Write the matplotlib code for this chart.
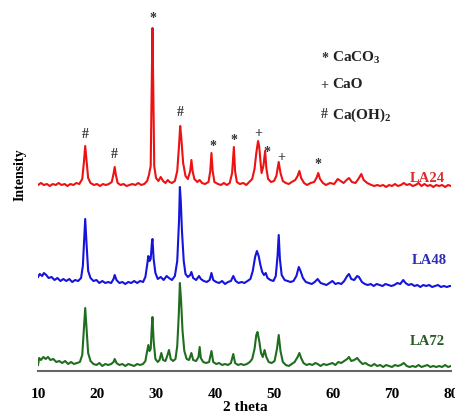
import numpy as np
import matplotlib
matplotlib.use("Agg")
import matplotlib.pyplot as plt

# XRD traces: (2 theta, intensity in arbitrary offset units)
la24 = [(10.0, 186), (10.5, 188), (11.0, 186), (11.5, 187), (12.0, 185), (12.5, 187), (13.0, 186),
        (13.5, 188), (14.0, 186), (14.5, 187), (15.0, 185), (15.5, 187), (16.0, 186), (16.5, 188),
        (17.0, 187), (17.5, 192), (17.8, 210), (18.0, 225), (18.2, 212), (18.5, 193), (18.9, 188),
        (19.5, 186), (20.0, 187), (20.5, 185), (21.0, 187), (21.5, 186), (22.0, 187), (22.5, 189),
        (22.8, 197), (23.0, 204), (23.2, 196), (23.5, 188), (24.0, 186), (24.5, 187), (25.0, 185),
        (25.5, 186), (26.0, 187), (26.5, 186), (27.0, 188), (27.5, 186), (28.0, 187), (28.5, 190),
        (28.8, 196), (29.1, 205), (29.3, 300), (29.4, 343), (29.5, 300), (29.7, 205), (30.0, 193),
        (30.4, 190), (30.8, 194), (31.2, 190), (31.6, 188), (32.0, 191), (32.3, 189), (32.7, 188),
        (33.2, 190), (33.6, 200), (33.9, 225), (34.1, 245), (34.3, 232), (34.6, 208), (35.0, 195),
        (35.4, 192), (35.8, 200), (36.0, 211), (36.2, 200), (36.5, 192), (37.0, 189), (37.4, 191),
        (37.8, 188), (38.3, 187), (38.9, 189), (39.2, 200), (39.4, 218), (39.6, 200), (39.9, 189),
        (40.5, 187), (41.0, 186), (41.5, 188), (42.0, 186), (42.5, 188), (42.9, 198), (43.2, 224),
        (43.4, 200), (43.7, 189), (44.2, 187), (44.8, 188), (45.3, 186), (45.8, 189), (46.3, 192),
        (46.7, 202), (47.0, 218), (47.3, 230), (47.5, 224), (47.7, 210), (47.9, 198), (48.2, 205),
        (48.5, 220), (48.7, 203), (49.0, 192), (49.5, 189), (50.0, 190), (50.4, 195), (50.8, 209),
        (51.1, 198), (51.5, 190), (52.0, 188), (52.5, 187), (53.0, 189), (53.6, 191), (54.0, 195),
        (54.3, 200), (54.6, 193), (55.1, 188), (55.6, 186), (56.2, 188), (56.8, 189), (57.2, 193),
        (57.5, 198), (57.8, 192), (58.3, 188), (58.8, 186), (59.5, 188), (60.2, 187), (60.8, 192),
        (61.3, 190), (61.8, 188), (62.3, 191), (62.7, 193), (63.2, 189), (63.8, 188), (64.3, 192),
        (64.8, 197), (65.2, 191), (65.8, 188), (66.5, 186), (67.0, 185), (67.5, 186), (68.0, 185),
        (68.5, 186), (69.0, 184), (69.5, 186), (70.0, 185), (70.5, 187), (71.0, 185), (71.5, 186),
        (72.0, 188), (72.5, 186), (73.0, 187), (73.5, 185), (74.0, 186), (74.5, 188), (75.0, 185),
        (75.5, 187), (76.0, 185), (76.5, 186), (77.0, 184), (77.5, 186), (78.0, 185), (78.5, 186),
        (79.0, 184), (79.5, 186), (80.0, 185)]

la48 = [(10.0, 94), (10.3, 97), (10.7, 95), (11.0, 98), (11.4, 96), (11.8, 93), (12.3, 94), (12.8, 91),
        (13.3, 93), (13.8, 90), (14.3, 92), (14.8, 90), (15.3, 92), (15.8, 89), (16.3, 91), (16.8, 90),
        (17.3, 93), (17.6, 105), (17.85, 135), (18.0, 152), (18.2, 130), (18.5, 100), (18.9, 93),
        (19.4, 90), (19.9, 91), (20.4, 88), (20.9, 90), (21.4, 88), (21.9, 89), (22.4, 88), (22.8, 92),
        (23.0, 96), (23.3, 91), (23.8, 88), (24.3, 89), (24.8, 87), (25.3, 89), (25.8, 88), (26.3, 90),
        (26.8, 88), (27.3, 90), (27.8, 89), (28.2, 94), (28.5, 106), (28.7, 115), (28.9, 110),
        (29.1, 112), (29.3, 128), (29.4, 132), (29.6, 112), (29.9, 98), (30.3, 92), (30.8, 94),
        (31.3, 91), (31.8, 95), (32.2, 93), (32.7, 91), (33.2, 95), (33.6, 110), (33.9, 150),
        (34.05, 184), (34.2, 170), (34.4, 140), (34.7, 110), (35.0, 97), (35.4, 94), (35.8, 96),
        (36.0, 99), (36.3, 93), (36.8, 91), (37.3, 95), (37.6, 92), (38.1, 90), (38.6, 89), (39.1, 91),
        (39.4, 98), (39.7, 91), (40.2, 89), (40.7, 88), (41.2, 90), (41.7, 87), (42.2, 89), (42.7, 90),
        (43.1, 95), (43.5, 90), (44.0, 88), (44.5, 89), (45.0, 88), (45.5, 90), (46.0, 92), (46.4, 100),
        (46.8, 114), (47.1, 120), (47.4, 115), (47.7, 106), (48.0, 99), (48.3, 96), (48.6, 98),
        (48.9, 93), (49.4, 91), (49.9, 90), (50.3, 95), (50.6, 115), (50.8, 136), (51.0, 112),
        (51.3, 96), (51.8, 91), (52.3, 90), (52.8, 89), (53.3, 90), (53.8, 95), (54.2, 104), (54.5, 100),
        (54.9, 93), (55.4, 89), (55.9, 88), (56.4, 87), (56.9, 89), (57.4, 92), (57.9, 88), (58.4, 87),
        (58.9, 86), (59.4, 88), (59.9, 90), (60.4, 87), (60.9, 88), (61.4, 87), (61.9, 90), (62.4, 95),
        (62.7, 97), (63.1, 92), (63.6, 91), (64.1, 95), (64.4, 94), (64.9, 89), (65.4, 87), (65.9, 86),
        (66.4, 87), (66.9, 85), (67.4, 87), (67.9, 86), (68.4, 85), (68.9, 87), (69.4, 86), (69.9, 85),
        (70.4, 86), (70.9, 88), (71.4, 87), (71.9, 91), (72.3, 88), (72.8, 86), (73.3, 87), (73.8, 85),
        (74.3, 86), (74.8, 84), (75.3, 86), (75.8, 85), (76.3, 86), (76.8, 84), (77.3, 85), (77.8, 86),
        (78.3, 84), (78.8, 85), (79.3, 84), (79.8, 85), (80.0, 85)]

la72 = [(10.0, 6), (10.2, 13), (10.5, 11), (10.9, 14), (11.3, 12), (11.7, 14), (12.1, 11), (12.6, 12),
        (13.1, 9), (13.6, 10), (14.1, 8), (14.6, 10), (15.1, 7), (15.6, 9), (16.1, 7), (16.6, 8),
        (17.1, 9), (17.5, 16), (17.8, 45), (18.0, 63), (18.2, 45), (18.5, 18), (18.9, 10), (19.4, 7),
        (19.9, 6), (20.4, 8), (20.9, 5), (21.4, 7), (21.9, 6), (22.4, 7), (22.8, 9), (23.0, 12),
        (23.3, 8), (23.8, 6), (24.3, 7), (24.8, 5), (25.3, 7), (25.8, 6), (26.3, 5), (26.8, 7),
        (27.3, 6), (27.8, 7), (28.2, 10), (28.5, 20), (28.7, 26), (28.9, 20), (29.1, 22), (29.3, 45),
        (29.4, 54), (29.6, 30), (29.9, 12), (30.3, 9), (30.6, 11), (30.9, 18), (31.2, 11), (31.6, 10),
        (31.9, 15), (32.2, 21), (32.5, 12), (32.9, 10), (33.3, 12), (33.6, 25), (33.85, 55),
        (34.05, 88), (34.25, 70), (34.5, 40), (34.8, 20), (35.2, 12), (35.6, 11), (36.0, 18),
        (36.3, 11), (36.8, 10), (37.2, 14), (37.4, 24), (37.6, 13), (38.0, 9), (38.5, 8), (39.0, 9),
        (39.4, 20), (39.7, 9), (40.2, 7), (40.7, 8), (41.2, 6), (41.7, 7), (42.2, 6), (42.7, 8),
        (43.1, 17), (43.4, 8), (43.9, 6), (44.4, 7), (44.9, 6), (45.4, 7), (45.9, 9), (46.3, 12),
        (46.7, 22), (47.0, 36), (47.2, 39), (47.5, 30), (47.8, 18), (48.1, 14), (48.4, 21), (48.7, 14),
        (49.1, 9), (49.6, 8), (50.1, 10), (50.5, 22), (50.8, 36), (51.1, 20), (51.5, 9), (52.0, 6),
        (52.5, 5), (53.0, 7), (53.5, 9), (54.0, 14), (54.3, 18), (54.6, 13), (55.0, 8), (55.5, 6),
        (56.0, 7), (56.5, 6), (57.0, 8), (57.4, 7), (57.9, 5), (58.4, 7), (58.9, 6), (59.4, 7),
        (59.9, 8), (60.4, 6), (60.9, 9), (61.4, 8), (61.9, 10), (62.4, 12), (62.7, 14), (63.1, 10),
        (63.6, 11), (64.1, 13), (64.5, 10), (65.0, 7), (65.5, 8), (66.0, 6), (66.5, 5), (67.0, 7),
        (67.5, 5), (68.0, 6), (68.5, 4), (69.0, 6), (69.5, 5), (70.0, 4), (70.5, 6), (71.0, 5),
        (71.5, 6), (72.0, 8), (72.5, 5), (73.0, 4), (73.5, 5), (74.0, 4), (74.5, 6), (75.0, 4),
        (75.5, 5), (76.0, 6), (76.5, 4), (77.0, 5), (77.5, 4), (78.0, 5), (78.5, 4), (79.0, 6),
        (79.5, 4), (80.0, 5)]

# phase markers above the LA24 peaks
mark_pos = [18.0, 23.0, 29.4, 34.1, 39.6, 43.2, 47.3, 48.8, 51.2, 57.5]
mark_val = [236, 216, 353, 258, 224, 231, 238, 219, 214, 206]
mark_sym = ['#', '#', '*', '#', '*', '*', '+', '*', '+', '*']

xticks = [10, 20, 30, 40, 50, 60, 70, 80]

serif = 'Liberation Serif'
fig = plt.figure(figsize=(4.55, 4.15), dpi=100)
ax = fig.add_axes([38 / 455, 44 / 415, 413 / 455, 366 / 415])

for data, col in [(la24, '#ee1111'), (la48, '#1414dd'), (la72, '#1f6e1f')]:
    arr = np.array(data)
    ax.plot(arr[:, 0], arr[:, 1], color=col, lw=1.5)

for x, y, s in zip(mark_pos, mark_val, mark_sym):
    ax.text(x, y, s, ha='center', va='center', fontsize=10, color='#333333',
            family=serif, fontweight='bold')

# sample labels
ax.text(79, 192, 'LA24', ha='right', va='center', color='#dd2a2a', fontsize=10.5,
        family=serif, fontweight='bold')
ax.text(79.3, 111, 'LA48', ha='right', va='center', color='#2b2bb5', fontsize=10.5,
        family=serif, fontweight='bold')
ax.text(79, 30, 'LA72', ha='right', va='center', color='#2a5a2a', fontsize=10.5,
        family=serif, fontweight='bold')

# legend of phases
leg_txt = [('*', r'CaCO$_\mathregular{3}$', 313), ('+', 'CaO', 286), ('#', r'Ca(OH)$_\mathregular{2}$', 256)]
for sym, lab, y in leg_txt:
    ax.text(58.6, y, sym, ha='center', va='center', fontsize=10, color='#333333',
            family=serif, fontweight='bold')
    ax.text(59.8, y, lab, ha='left', va='center', fontsize=11, color='#222222',
            family=serif, fontweight='bold')

ax.set_xlim(10, 80)
ax.set_ylim(0, 366)
ax.set_xticks(xticks)
ax.set_yticks([])
ax.tick_params(axis='x', length=0, pad=12)
for lbl in ax.get_xticklabels():
    lbl.set_family(serif)
    lbl.set_fontweight('bold')
    lbl.set_fontsize(11)
for side in ['top', 'right', 'left']:
    ax.spines[side].set_visible(False)
ax.spines['bottom'].set_color('#666666')
ax.spines['bottom'].set_linewidth(1.5)

fig.text(245 / 455, 1 - 407 / 415, '2 theta', ha='center', va='center', fontsize=11,
         family=serif, fontweight='bold')
fig.text(20 / 455, 1 - 175 / 415, 'Intensity', ha='center', va='center', rotation=90,
         fontsize=10, family=serif, fontweight='bold')

fig.savefig('out.png', dpi=100)
